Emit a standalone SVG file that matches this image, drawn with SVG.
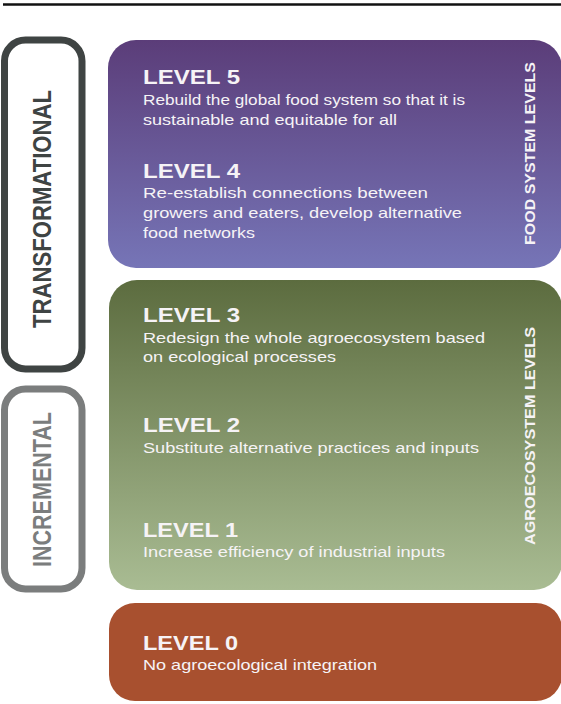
<svg xmlns="http://www.w3.org/2000/svg" width="561" height="704" viewBox="0 0 561 704">
<defs>
<linearGradient id="gPurple" x1="0" y1="0" x2="0" y2="1">
<stop offset="0" stop-color="#5b3d79"/>
<stop offset="1" stop-color="#7675b7"/>
</linearGradient>
<linearGradient id="gGreen" x1="0" y1="0" x2="0" y2="1">
<stop offset="0" stop-color="#5c6c3f"/>
<stop offset="1" stop-color="#a9bc93"/>
</linearGradient>
<style>
.t{font-family:"Liberation Sans",Arial,sans-serif;fill:#f6f3f6}
.h{font-size:20px;font-weight:bold}
.b{font-size:15px}
.v{font-size:15px;font-weight:bold;text-anchor:middle}
.side{font-family:"Liberation Sans",Arial,sans-serif;font-size:21.5px;font-weight:bold;text-anchor:middle}
</style>
</defs>
<rect width="561" height="704" fill="#ffffff"/>
<line x1="3" y1="4.5" x2="561" y2="4.5" stroke="#111" stroke-width="2.5"/>

<g id="transformational">
<rect x="4.5" y="40" width="77.5" height="329" rx="21" fill="none" stroke="#3f4443" stroke-width="7"/>
<text class="side" fill="#3f4443" textLength="238" lengthAdjust="spacingAndGlyphs" transform="translate(42,209) scale(1.2,1) rotate(-90)" x="0" y="7.7">TRANSFORMATIONAL</text>
</g>

<g id="incremental">
<rect x="4.5" y="389" width="77.5" height="200" rx="21" fill="none" stroke="#7b7d7d" stroke-width="7"/>
<text class="side" fill="#7b7d7d" textLength="155" lengthAdjust="spacingAndGlyphs" transform="translate(42,489.5) scale(1.2,1) rotate(-90)" x="0" y="7.7">INCREMENTAL</text>
</g>

<g id="food-system">
<rect x="108" y="40" width="454" height="228" rx="28" fill="url(#gPurple)"/>
<text class="t h" x="143" y="84" textLength="97" lengthAdjust="spacingAndGlyphs">LEVEL 5</text>
<text class="t b" x="143" y="105" textLength="322" lengthAdjust="spacingAndGlyphs">Rebuild the global food system so that it is</text>
<text class="t b" x="143" y="125" textLength="254" lengthAdjust="spacingAndGlyphs">sustainable and equitable for all</text>
<text class="t h" x="143" y="178" textLength="97" lengthAdjust="spacingAndGlyphs">LEVEL 4</text>
<text class="t b" x="143" y="198" textLength="285" lengthAdjust="spacingAndGlyphs">Re-establish connections between</text>
<text class="t b" x="143" y="218" textLength="319" lengthAdjust="spacingAndGlyphs">growers and eaters, develop alternative</text>
<text class="t b" x="143" y="238" textLength="112" lengthAdjust="spacingAndGlyphs">food networks</text>
<text class="t v" transform="translate(530,153.5) rotate(-90)" x="0" y="5.4" textLength="183" lengthAdjust="spacingAndGlyphs">FOOD SYSTEM LEVELS</text>
</g>

<g id="agroecosystem">
<rect x="109" y="280" width="453" height="310" rx="28" fill="url(#gGreen)"/>
<text class="t h" x="143" y="322" textLength="97" lengthAdjust="spacingAndGlyphs">LEVEL 3</text>
<text class="t b" x="143" y="343" textLength="342" lengthAdjust="spacingAndGlyphs">Redesign the whole agroecosystem based</text>
<text class="t b" x="143" y="362" textLength="193" lengthAdjust="spacingAndGlyphs">on ecological processes</text>
<text class="t h" x="143" y="432" textLength="97" lengthAdjust="spacingAndGlyphs">LEVEL 2</text>
<text class="t b" x="143" y="453" textLength="336" lengthAdjust="spacingAndGlyphs">Substitute alternative practices and inputs</text>
<text class="t h" x="143" y="537" textLength="95" lengthAdjust="spacingAndGlyphs">LEVEL 1</text>
<text class="t b" x="143" y="557" textLength="302" lengthAdjust="spacingAndGlyphs">Increase efficiency of industrial inputs</text>
<text class="t v" transform="translate(530,436) rotate(-90)" x="0" y="5.4" textLength="218" lengthAdjust="spacingAndGlyphs">AGROECOSYSTEM LEVELS</text>
</g>

<g id="level0">
<rect x="109" y="603" width="453" height="98" rx="26" fill="#a8502f"/>
<text class="t h" x="143" y="650" textLength="95" lengthAdjust="spacingAndGlyphs">LEVEL 0</text>
<text class="t b" x="143" y="670" textLength="234" lengthAdjust="spacingAndGlyphs">No agroecological integration</text>
</g>

<g id="connectors"></g>
</svg>
